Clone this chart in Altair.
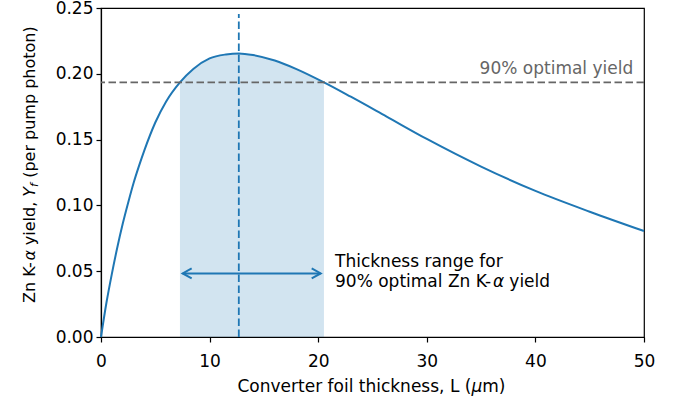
import altair as alt
import pandas as pd

# ---- data ----
thickness_um = [0, 0.5, 1.0, 1.5, 2.0, 2.5, 3.0, 3.5, 4.0, 5.0, 6.0, 7.27, 8.5, 10.0,
                11.5, 12.7, 14.0, 16.0, 18.0, 20.53, 23.0, 26.3, 30.0, 35.0, 40.0, 45.0, 50.0]
yield_per_photon = [0.0, 0.026, 0.048, 0.068, 0.086, 0.102, 0.117, 0.130, 0.142, 0.163,
                    0.179, 0.1935, 0.2037, 0.2117, 0.2147, 0.2155, 0.2143, 0.2101, 0.2036,
                    0.1935, 0.1826, 0.1675, 0.1505, 0.1295, 0.1110, 0.0952, 0.0805]
range_lo, range_hi = 7.27, 20.53
optimum_um = 12.69
yield_90 = 0.1935
x_ticks = [0, 10, 20, 30, 40, 50]
y_ticks = [0.0, 0.05, 0.10, 0.15, 0.20, 0.25]

BLUE = "#1f77b4"
GRAY = "#666666"
FONT = "DejaVu Sans"

df = pd.DataFrame({"L": thickness_um, "Y": yield_per_photon})
shade_df = df[(df.L >= range_lo) & (df.L <= range_hi)]

xs = alt.Scale(domain=[0, 50], nice=False, zero=False)
ys = alt.Scale(domain=[0, 0.25], nice=False, zero=False)
ax_x = alt.Axis(values=x_ticks, format="d", title=None)
ax_y = alt.Axis(values=y_ticks, format=".2f", title=None)


def X(f):
    return alt.X(f + ":Q", scale=xs, axis=ax_x)


def Y(f):
    return alt.Y(f + ":Q", scale=ys, axis=ax_y)


shade = alt.Chart(shade_df).mark_area(color=BLUE, opacity=0.2, interpolate="monotone").encode(
    x=X("L"), y=Y("Y"))
curve = alt.Chart(df).mark_line(color=BLUE, strokeWidth=2, interpolate="monotone").encode(
    x=X("L"), y=Y("Y"))

hline = alt.Chart(pd.DataFrame({"Y": [yield_90]})).mark_rule(
    color=GRAY, strokeWidth=1.8, strokeDash=[7.5, 3.5]).encode(y=Y("Y"))

vline = alt.Chart(pd.DataFrame({"L": [optimum_um], "Y": [0.0], "Y2": [0.2454]})).mark_rule(
    color=BLUE, strokeWidth=1.8, strokeDash=[7.5, 3.5]).encode(x=X("L"), y=Y("Y"), y2="Y2:Q")

arrow_y = 0.0483
arrow_lo, arrow_hi = 7.52, 20.23
arrow = alt.Chart(pd.DataFrame({"L": [arrow_lo], "L2": [arrow_hi], "Y": [arrow_y]})).mark_rule(
    color=BLUE, strokeWidth=2).encode(x=X("L"), x2="L2:Q", y=Y("Y"))
head_l = alt.Chart(pd.DataFrame({"L": [arrow_lo], "Y": [arrow_y]})).mark_point(
    shape="M 1 -0.55 L 0 0 L 1 0.55", size=324, filled=False, stroke=BLUE, strokeWidth=2,
    opacity=1).encode(x=X("L"), y=Y("Y"))
head_r = alt.Chart(pd.DataFrame({"L": [arrow_hi], "Y": [arrow_y]})).mark_point(
    shape="M -1 -0.55 L 0 0 L -1 0.55", size=324, filled=False, stroke=BLUE, strokeWidth=2,
    opacity=1).encode(x=X("L"), y=Y("Y"))


def dtext(s, L, Yv, dx=0, italic=False, color="black", align="left", size=17):
    d = pd.DataFrame({"L": [L], "Y": [Yv], "t": [s]})
    kw = dict(font=FONT, fontSize=size, color=color, align=align, baseline="alphabetic", dx=dx)
    if italic:
        kw["fontStyle"] = "italic"
    return alt.Chart(d).mark_text(**kw).encode(x=X("L"), y=Y("Y"), text="t:N")


def ptext(s, x, y, italic=False, size=17, angle=0, align="left"):
    d = pd.DataFrame({"t": [s]})
    kw = dict(font=FONT, fontSize=size, color="black", align=align, baseline="alphabetic")
    if italic:
        kw["fontStyle"] = "italic"
    if angle:
        kw["angle"] = angle
    return alt.Chart(d).mark_text(**kw).encode(x=alt.value(x), y=alt.value(y), text="t:N")


ann_x = 21.55
texts = [
    dtext("90% optimal yield", 49.01, 0.1998, color=GRAY, align="right"),
    dtext("Thickness range for", ann_x, 0.0530),
    dtext("90% optimal Zn K-", ann_x, 0.0382),
    dtext("α", ann_x, 0.0382, dx=158.0, italic=True),
    dtext("yield", ann_x, 0.0382, dx=158.0 + 10.9 + 5.4),
]

# x-axis title (pixel positions relative to plot area)
xt_y = 384
mu_x = 370.4
texts += [
    ptext("Converter foil thickness, L (", mu_x, xt_y, align="right"),
    ptext("μ", mu_x, xt_y, italic=True),
    ptext("m)", mu_x + 10.8, xt_y),
]

# y-axis title, rotated, pieces from bottom to top (offsets in em)
yt_x = -66
yb = 295
fs = 16
sub = 0.7
texts += [
    ptext("Zn K-", yt_x, yb, size=fs, angle=270),
    ptext("α", yt_x, yb - 2.654 * fs, size=fs, angle=270, italic=True),
    ptext("yield,", yt_x, yb - (3.294 + 0.318) * fs, size=fs, angle=270),
    ptext("Y", yt_x, yb - 6.646 * fs, size=fs, angle=270, italic=True),
    ptext("f", yt_x + 3, yb - 7.257 * fs, size=fs * sub, angle=270, italic=True),
    ptext("(per pump photon)", yt_x, yb - (7.257 + 0.318) * fs - 0.352 * fs * sub,
          size=fs, angle=270),
]

chart = alt.layer(shade, curve, hline, vline, arrow, head_l, head_r, *texts).properties(
    width=543, height=329,
    autosize=alt.AutoSizeParams(type="none"),
    padding={"left": 101, "top": 8, "right": 40, "bottom": 68},
    background="white",
).configure_axis(
    labelFont=FONT, labelFontSize=17, labelColor="black",
    domainColor="black", tickColor="black", domainWidth=1.2, tickWidth=1.2,
    tickSize=5, grid=False, labelFlush=False, labelOverlap=False,
).configure_axisX(labelPadding=11).configure_axisY(labelPadding=3).configure_view(
    stroke="black", strokeWidth=1.2)

chart.save("out.html", embed_options={"renderer": "svg", "actions": False})
